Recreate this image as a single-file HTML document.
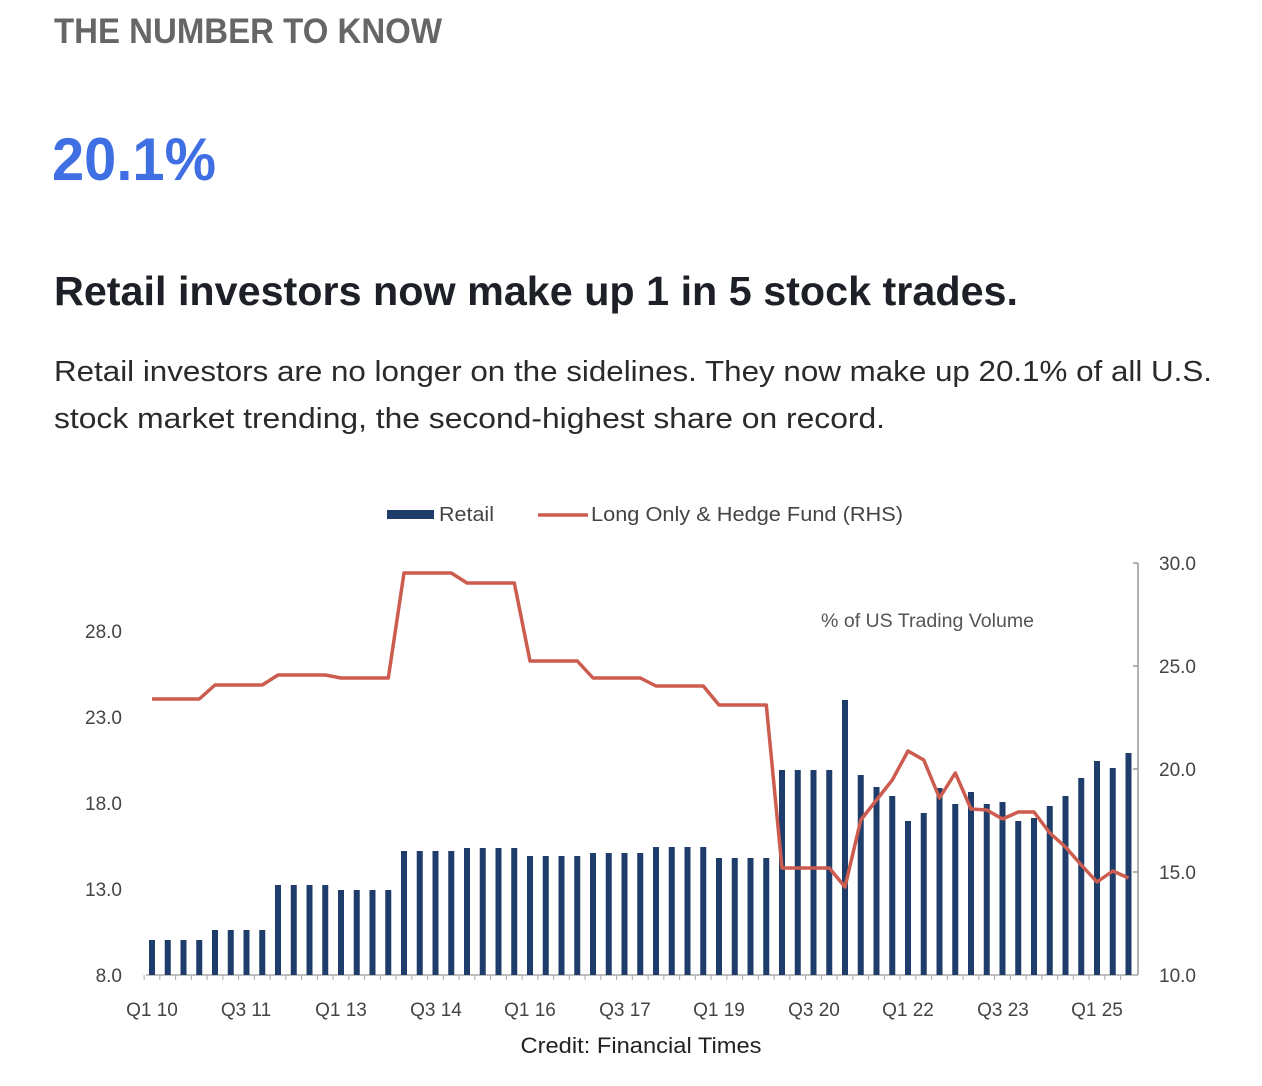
<!DOCTYPE html>
<html><head><meta charset="utf-8"><style>html,body{margin:0;padding:0;background:#fff}svg{display:block}</style></head>
<body>
<svg width="1262" height="1086" viewBox="0 0 1262 1086" xmlns="http://www.w3.org/2000/svg" font-family="Liberation Sans, sans-serif">
<text x="54" y="43" font-size="35" font-weight="bold" fill="#666" textLength="388" lengthAdjust="spacingAndGlyphs">THE NUMBER TO KNOW</text>
<text x="52" y="180" font-size="60" font-weight="bold" fill="#3f6fe3" textLength="164" lengthAdjust="spacingAndGlyphs">20.1%</text>
<text x="54" y="305" font-size="41" font-weight="bold" fill="#1d2026" textLength="964" lengthAdjust="spacingAndGlyphs">Retail investors now make up 1 in 5 stock trades.</text>
<text x="54" y="381" font-size="29" fill="#2a2a2a" textLength="1158" lengthAdjust="spacingAndGlyphs">Retail investors are no longer on the sidelines. They now make up 20.1% of all U.S.</text>
<text x="54" y="428" font-size="29" fill="#2a2a2a" textLength="831" lengthAdjust="spacingAndGlyphs">stock market trending, the second-highest share on record.</text>

<rect x="387" y="510" width="47" height="9" fill="#1f3d6b"/>
<text x="439" y="521" font-size="20" fill="#444" textLength="55" lengthAdjust="spacingAndGlyphs">Retail</text>
<line x1="538" y1="515" x2="588" y2="515" stroke="#cc5c4f" stroke-width="3.5"/>
<text x="591" y="521" font-size="20" fill="#444" textLength="312" lengthAdjust="spacingAndGlyphs">Long Only &amp; Hedge Fund (RHS)</text>
<text x="821" y="627" font-size="19" fill="#555" textLength="213" lengthAdjust="spacingAndGlyphs">% of US Trading Volume</text>

<g font-size="19" fill="#444" text-anchor="end">
<text x="122" y="638">28.0</text><text x="122" y="724">23.0</text><text x="122" y="810">18.0</text><text x="122" y="896">13.0</text><text x="122" y="982">8.0</text>
</g>
<line x1="1138" y1="563" x2="1138" y2="975" stroke="#999" stroke-width="1.5"/>
<g stroke="#999" stroke-width="1.5">
<line x1="1133" y1="563" x2="1138" y2="563"/><line x1="1133" y1="666" x2="1138" y2="666"/><line x1="1133" y1="769" x2="1138" y2="769"/><line x1="1133" y1="872" x2="1138" y2="872"/>
</g>
<g font-size="19" fill="#444">
<text x="1159" y="570">30.0</text><text x="1159" y="673">25.0</text><text x="1159" y="776">20.0</text><text x="1159" y="879">15.0</text><text x="1159" y="982">10.0</text>
</g>
<line x1="146" y1="975" x2="1138" y2="975" stroke="#aaa" stroke-width="1.5"/>
<g id="ticks" stroke="#aaa" stroke-width="1"></g>
<g id="bars" fill="#1f3d6b"></g>
<polyline id="line" fill="none" stroke="#cc5c4f" stroke-width="3.5" stroke-linejoin="round" points=""/>
<g font-size="19" fill="#444" text-anchor="middle">
<text x="152" y="1016">Q1 10</text><text x="246" y="1016">Q3 11</text><text x="341" y="1016">Q1 13</text><text x="436" y="1016">Q3 14</text><text x="530" y="1016">Q1 16</text><text x="625" y="1016">Q3 17</text><text x="719" y="1016">Q1 19</text><text x="814" y="1016">Q3 20</text><text x="908" y="1016">Q1 22</text><text x="1003" y="1016">Q3 23</text><text x="1097" y="1016">Q1 25</text>
</g>
<text x="641" y="1053" font-size="22" fill="#222" text-anchor="middle" textLength="241" lengthAdjust="spacingAndGlyphs">Credit: Financial Times</text>
<script>
var bt=[940,940,940,940,930,930,930,930,885,885,885,885,890,890,890,890,851,851,851,851,848,848,848,848,856,856,856,856,853,853,853,853,847,847,847,847,858,858,858,858,770,770,770,770,700,775,787,796,821,813,788,804,792,804,802,821,818,806,796,778,761,768,753];
var lt=[699,699,699,699,685,685,685,685,675,675,675,675,678,678,678,678,573,573,573,573,583,583,583,583,661,661,661,661,678,678,678,678,686,686,686,686,705,705,705,705,868,868,868,868,887,820,800,780,751,760,798,773,809,810,819,812,812,833,847,865,882,871,878];
var ns="http://www.w3.org/2000/svg",b=document.getElementById('bars'),t=document.getElementById('ticks'),pts=[];
for(var i=0;i<63;i++){var x=152+i*15.75;var r=document.createElementNS(ns,'rect');r.setAttribute('x',x-3);r.setAttribute('y',bt[i]);r.setAttribute('width',6);r.setAttribute('height',975-bt[i]);b.appendChild(r);
var l=document.createElementNS(ns,'line');var tx=x-7.9;l.setAttribute('x1',tx);l.setAttribute('x2',tx);l.setAttribute('y1',975);l.setAttribute('y2',980);t.appendChild(l);
pts.push(x.toFixed(1)+','+lt[i]);}
document.getElementById('line').setAttribute('points',pts.join(' '));
</script>
</svg>
</body></html>
